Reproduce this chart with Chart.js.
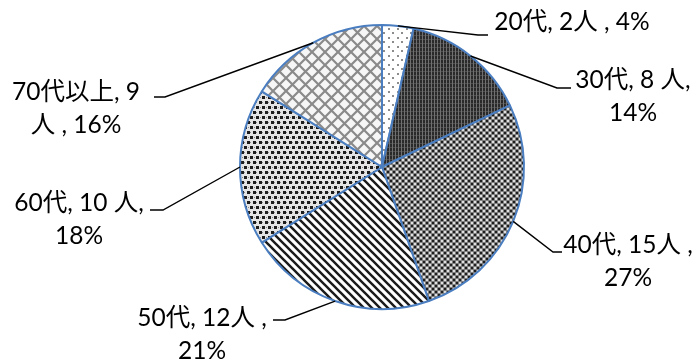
<!DOCTYPE html>
<html>
<head>
<meta charset="utf-8">
<script src="https://cdn.jsdelivr.net/npm/chart.js@4.4.1/dist/chart.umd.min.js"></script>
<style>
  html, body { margin: 0; padding: 0; background: #fff; }
  #wrap { width: 696px; height: 360px; }
</style>
</head>
<body>
<div id="wrap"><canvas id="chart" width="696" height="360"></canvas></div>
<script>
const ageGroups = ['20代', '30代', '40代', '50代', '60代', '70代以上']
const headcounts = [2, 8, 15, 12, 10, 9]

const total = headcounts.reduce((a, b) => a + b, 0)
const percents = headcounts.map(v => Math.round(v / total * 100) + '%')

// label text, broken the way each callout wraps
const labelLines = [
  [`${ageGroups[0]}, ${headcounts[0]}人 , ${percents[0]}`],
  [`${ageGroups[1]}, ${headcounts[1]} 人,`, percents[1]],
  [`${ageGroups[2]}, ${headcounts[2]}人 ,`, percents[2]],
  [`${ageGroups[3]}, ${headcounts[3]}人 ,`, percents[3]],
  [`${ageGroups[4]}, ${headcounts[4]} 人,`, percents[4]],
  [`${ageGroups[5]}, ${headcounts[5]}`, `人 , ${percents[5]}`]
]

// where each leader bends / ends and where its text sits
const callouts = [
  { elbow: [478, 35], end: [488, 35], x: 572, y: 22 },
  { elbow: [557, 88], end: [571, 88], x: 633, y: 80 },
  { elbow: [553, 252], end: [562, 252], x: 628, y: 245 },
  { elbow: [285, 320], end: [273, 320], x: 202, y: 318 },
  { elbow: [163, 210], end: [150, 210], x: 79, y: 203 },
  { elbow: [165, 97], end: [154, 97], x: 76, y: 92 }
]

const ctx = document.getElementById('chart').getContext('2d')

function makePattern(w, h, draw) {
  const c = document.createElement('canvas')
  c.width = w
  c.height = h
  const g = c.getContext('2d')
  draw(g, w, h)
  return ctx.createPattern(c, 'repeat')
}

const fills = [
  // sparse grey dots
  makePattern(9, 9, (g, w, h) => {
    g.fillStyle = '#fff'; g.fillRect(0, 0, w, h)
    g.fillStyle = '#8c8c8c'
    g.fillRect(1, 1, 2, 2)
    g.fillRect(5, 5, 2, 2)
  }),
  // dark vertical weave
  makePattern(3, 4, (g, w, h) => {
    g.fillStyle = '#2a2a2a'; g.fillRect(0, 0, w, h)
    g.fillStyle = '#707070'; g.fillRect(2, 0, 1, h)
    g.fillStyle = '#4c4c4c'; g.fillRect(0, 3, 2, 1)
  }),
  // small checker
  makePattern(6, 6, (g, w, h) => {
    g.fillStyle = '#808080'; g.fillRect(0, 0, w, h)
    g.fillStyle = '#1e1e1e'
    g.fillRect(0, 0, 2, 2); g.fillRect(3, 3, 2, 2)
    g.fillStyle = '#e0e0e0'
    g.fillRect(3, 0, 2, 2); g.fillRect(0, 3, 2, 2)
  }),
  // wide downward diagonal
  makePattern(8, 8, (g, w, h) => {
    g.fillStyle = '#fff'; g.fillRect(0, 0, w, h)
    g.strokeStyle = '#1a1a1a'
    g.lineWidth = 2.4
    for (let k = -1; k <= 1; k++) {
      g.beginPath()
      g.moveTo(-1, k * h - 1)
      g.lineTo(w + 1, h + k * h + 1)
      g.stroke()
    }
  }),
  // staggered confetti dots
  makePattern(6, 10, (g, w, h) => {
    g.fillStyle = '#e4e4e4'; g.fillRect(0, 0, w, h)
    g.fillStyle = '#1c1c1c'
    g.fillRect(1, 1, 3, 3)
    g.fillRect(4, 6, 2, 3); g.fillRect(0, 6, 1, 3)
    g.fillStyle = '#8a8a8a'
    g.fillRect(4, 2, 1, 1); g.fillRect(2, 7, 1, 1)
  }),
  // light diamond lattice
  makePattern(13, 13, (g, w, h) => {
    g.fillStyle = '#f6f6f6'; g.fillRect(0, 0, w, h)
    g.strokeStyle = '#8a8a8a'
    g.lineWidth = 2.2
    g.beginPath()
    g.moveTo(0, 0); g.lineTo(w, h)
    g.moveTo(w, 0); g.lineTo(0, h)
    g.stroke()
  })
]

const leaderLabels = {
  id: 'leaderLabels',
  afterDatasetsDraw(chart) {
    const c = chart.ctx
    const arcs = chart.getDatasetMeta(0).data
    c.save()
    c.strokeStyle = '#000'
    c.lineWidth = 1.4
    c.fillStyle = '#000'
    c.font = '24.5px Lato, "Noto Sans CJK JP"'
    c.textAlign = 'center'
    c.textBaseline = 'middle'
    arcs.forEach((arc, i) => {
      const mid = (arc.startAngle + arc.endAngle) / 2
      const sx = arc.x + Math.cos(mid) * arc.outerRadius
      const sy = arc.y + Math.sin(mid) * arc.outerRadius
      const co = callouts[i]
      c.beginPath()
      c.moveTo(sx, sy)
      c.lineTo(co.elbow[0], co.elbow[1])
      c.lineTo(co.end[0], co.end[1])
      c.stroke()
      labelLines[i].forEach((line, j) => {
        c.fillText(line, co.x, co.y + j * 33)
      })
    })
    c.restore()
  }
}

new Chart(ctx, {
  type: 'pie',
  data: {
    labels: ageGroups,
    datasets: [{
      data: headcounts,
      backgroundColor: fills,
      borderColor: '#4a7ec0',
      borderWidth: 2
    }]
  },
  options: {
    responsive: false,
    animation: false,
    radius: 142,
    layout: { padding: { left: 239, right: 171, top: 24, bottom: 50 } },
    plugins: {
      legend: { display: false },
      tooltip: { enabled: false }
    }
  },
  plugins: [leaderLabels]
})
</script>
</body>
</html>
